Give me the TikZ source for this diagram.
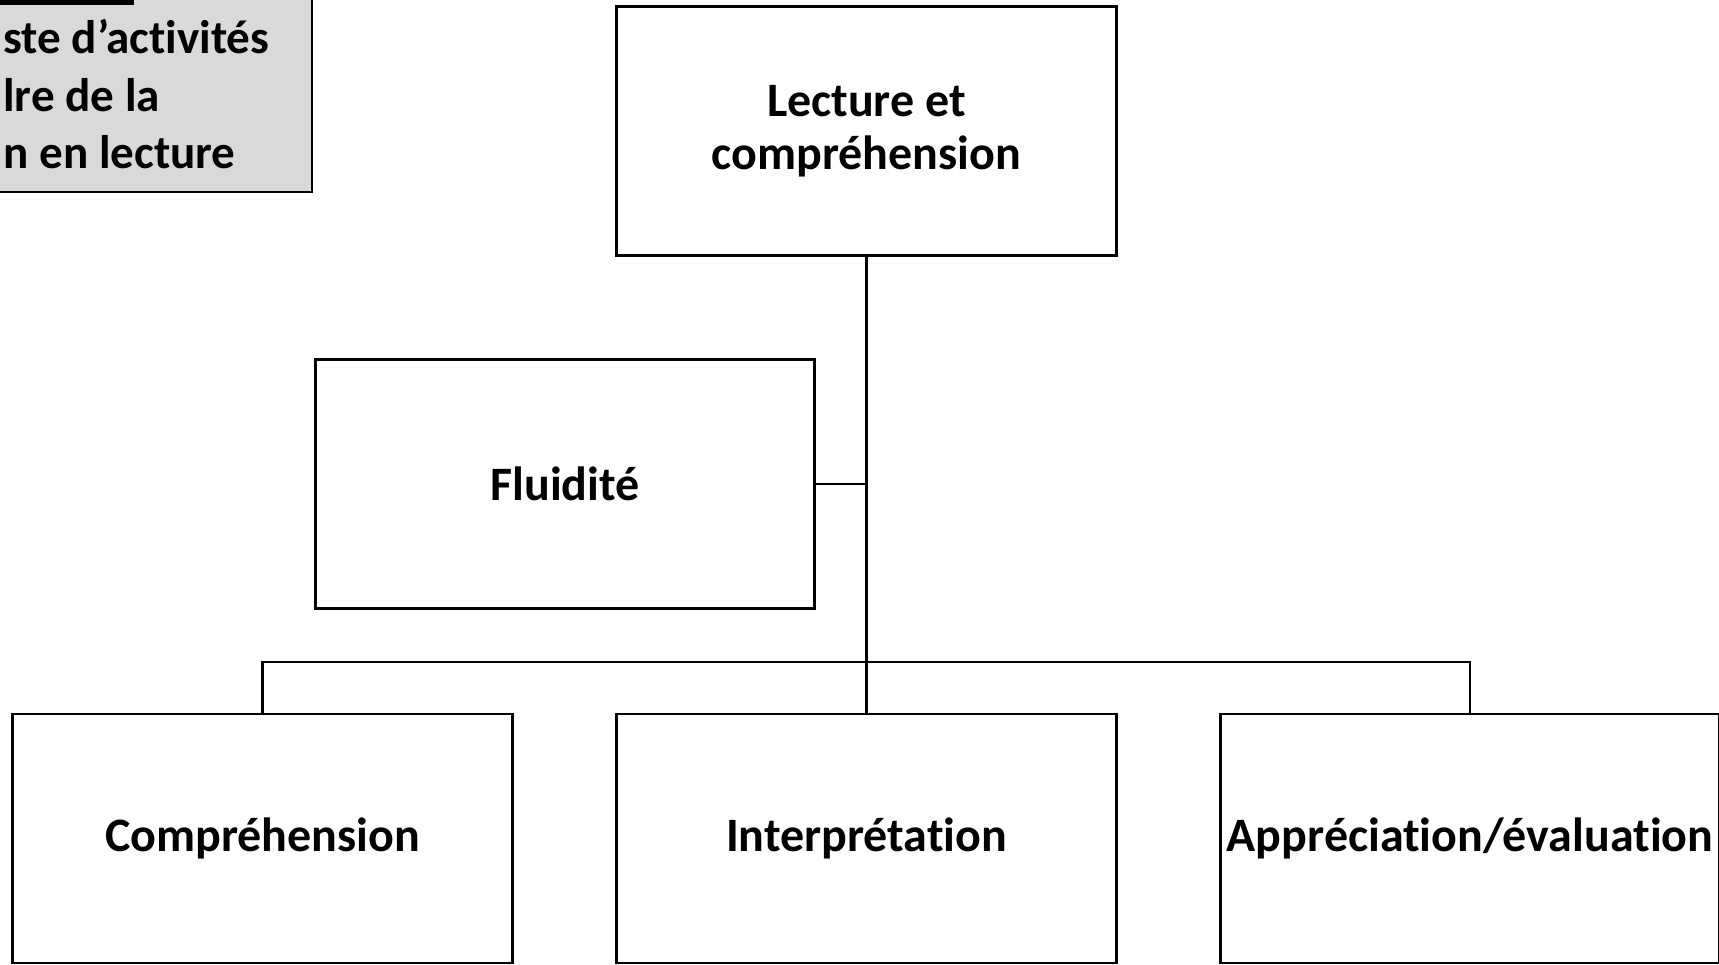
\documentclass[tikz,border=0pt]{standalone}
\usepackage{fontspec}
\setmainfont[Ligatures=NoCommon]{Carlito}
\usetikzlibrary{positioning}
\definecolor{notegray}{RGB}{217,217,217}

\begin{document}
\begin{tikzpicture}[x=0.01cm, y=-0.01cm, line width=0.8pt]

	\tikzstyle{box}=[rectangle, draw, line width=0.8pt, inner xsep=1pt, minimum width=4.99cm, minimum height=2.49cm, align=center, font=\fontsize{13.65}{15.1}\selectfont\bfseries]
	\tikzstyle{note}=[inner sep=0pt, align=left, anchor=north west, font=\fontsize{13.4}{16.3}\selectfont\bfseries]

	\useasboundingbox (0,0) rectangle (1719,964);

	% cut note in the corner
	\path[draw, fill=notegray] (-200,-10) rectangle (312,192);
	\draw[line width=2.2pt] (0,1) -- (134,1);
	\node[note] (n1) at (2,18) {ste d’activités\\lre de la\\n en lecture};

	\node[box] (lc) at (866.5,131) {Lecture et\\compréhension};
	\node[box] (flu) at (565,484) {Fluidité};

	\node[box] (comp) at (262.5,838.5) {Compréhension};
	\node[box] (interp) at (866.5,838.5) {Interprétation};
	\node[box] (appr) at (1470,838.5) {Appréciation/évaluation};

	\coordinate (bar) at (866.5,662);

	% links
	\draw (lc.south) -- (bar);
	\draw (flu.east) -- (flu.east -| lc.south);
	\draw (comp.north) |- (bar) -| (appr.north);
	\draw (bar) -- (interp.north);
\end{tikzpicture}
\end{document}
